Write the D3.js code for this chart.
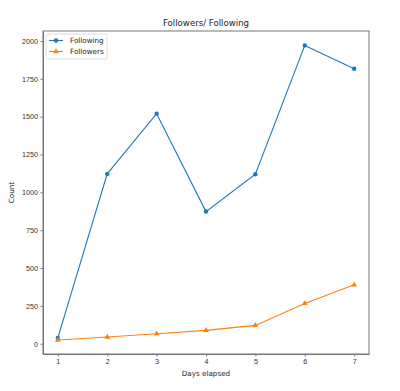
<!DOCTYPE html>
<html>
<head>
<meta charset="utf-8">
<script src="https://cdn.jsdelivr.net/npm/d3@7"></script>
<style>
  body { margin: 0; background: #fff; }
  svg { display: block; font-family: "DejaVu Sans", sans-serif; }
  .axis path, .axis line { stroke: #777; }
  .axis text { fill: #333; font-size: 7.2px; }
</style>
</head>
<body>
<svg id="chart" width="400" height="391"></svg>
<script>
const days = [1, 2, 3, 4, 5, 6, 7];
const following = [38, 1122, 1520, 873, 1120, 1971, 1817];
const followers = [24, 44, 66, 88, 121, 266, 389];
const yTicks = [0, 250, 500, 750, 1000, 1250, 1500, 1750, 2000];

const margin = {top: 31, left: 43, right: 31, bottom: 37},
    width = 400 - margin.left - margin.right,
    height = 391 - margin.top - margin.bottom,
    blue = "#1f77b4",
    orange = "#ff7f0e";

const svg = d3.select("#chart");
const g = svg.append("g")
    .attr("transform", "translate(" + margin.left + "," + margin.top + ")");

const xScale = d3.scaleLinear().domain([0.7, 7.3]).range([0, width]);
const yScale = d3.scaleLinear().domain([-68, 2066]).range([height, 0]);

g.append("g")
    .attr("class", "axis")
    .attr("transform", "translate(0," + height + ")")
    .call(d3.axisBottom(xScale).tickValues(days).tickFormat(d3.format("d"))
        .tickSizeInner(2.5).tickSizeOuter(0).tickPadding(2.5));

g.append("g")
    .attr("class", "axis")
    .call(d3.axisLeft(yScale).tickValues(yTicks).tickFormat(d3.format("d"))
        .tickSizeInner(2.5).tickSizeOuter(0).tickPadding(2.5));

// top and right spines
g.append("rect")
    .attr("width", width)
    .attr("height", height)
    .attr("fill", "none")
    .attr("stroke", "#777");

const line = d3.line()
    .x(function(d, i) { return xScale(days[i]); })
    .y(function(d) { return yScale(d); });

g.append("path")
    .datum(following)
    .attr("fill", "none")
    .attr("stroke", blue)
    .attr("stroke-width", 1.1)
    .attr("d", line);

g.selectAll(".dot")
    .data(following)
    .enter().append("circle")
    .attr("class", "dot")
    .attr("cx", function(d, i) { return xScale(days[i]); })
    .attr("cy", function(d) { return yScale(d); })
    .attr("r", 2.2)
    .attr("fill", blue);

g.append("path")
    .datum(followers)
    .attr("fill", "none")
    .attr("stroke", orange)
    .attr("stroke-width", 1.1)
    .attr("d", line);

const tri = d3.symbol().type(d3.symbolTriangle).size(14);
g.selectAll(".tri")
    .data(followers)
    .enter().append("path")
    .attr("class", "tri")
    .attr("d", tri)
    .attr("transform", function(d, i) {
        return "translate(" + xScale(days[i]) + "," + yScale(d) + ")";
    })
    .attr("fill", orange);

// title and labels
svg.append("text")
    .attr("x", margin.left + width / 2)
    .attr("y", 26)
    .attr("text-anchor", "middle")
    .attr("font-size", "8.6px")
    .attr("fill", "#222")
    .text("Followers/ Following");

svg.append("text")
    .attr("x", margin.left + width / 2)
    .attr("y", 376)
    .attr("text-anchor", "middle")
    .attr("font-size", "7.2px")
    .attr("fill", "#222")
    .text("Days elapsed");

svg.append("text")
    .attr("transform", "translate(14," + (margin.top + height / 2) + ") rotate(-90)")
    .attr("text-anchor", "middle")
    .attr("font-size", "7.2px")
    .attr("fill", "#222")
    .text("Count");

// legend
const legend = g.append("g").attr("transform", "translate(3,3)");
legend.append("rect")
    .attr("width", 61)
    .attr("height", 25)
    .attr("rx", 1.5)
    .attr("fill", "#fff")
    .attr("stroke", "#ddd");

const entries = [{name: "Following", color: blue, shape: "circle"},
                 {name: "Followers", color: orange, shape: "triangle"}];
entries.forEach(function(e, i) {
    const y = 6.5 + i * 11;
    legend.append("line")
        .attr("x1", 3).attr("x2", 17)
        .attr("y1", y).attr("y2", y)
        .attr("stroke", e.color)
        .attr("stroke-width", 1.1);
    if (e.shape === "circle") {
        legend.append("circle").attr("cx", 10).attr("cy", y).attr("r", 2.2).attr("fill", e.color);
    } else {
        legend.append("path").attr("d", tri).attr("transform", "translate(10," + y + ")").attr("fill", e.color);
    }
    legend.append("text")
        .attr("x", 24)
        .attr("y", y + 2.6)
        .attr("font-size", "7.2px")
        .attr("fill", "#222")
        .text(e.name);
});
</script>
</body>
</html>
